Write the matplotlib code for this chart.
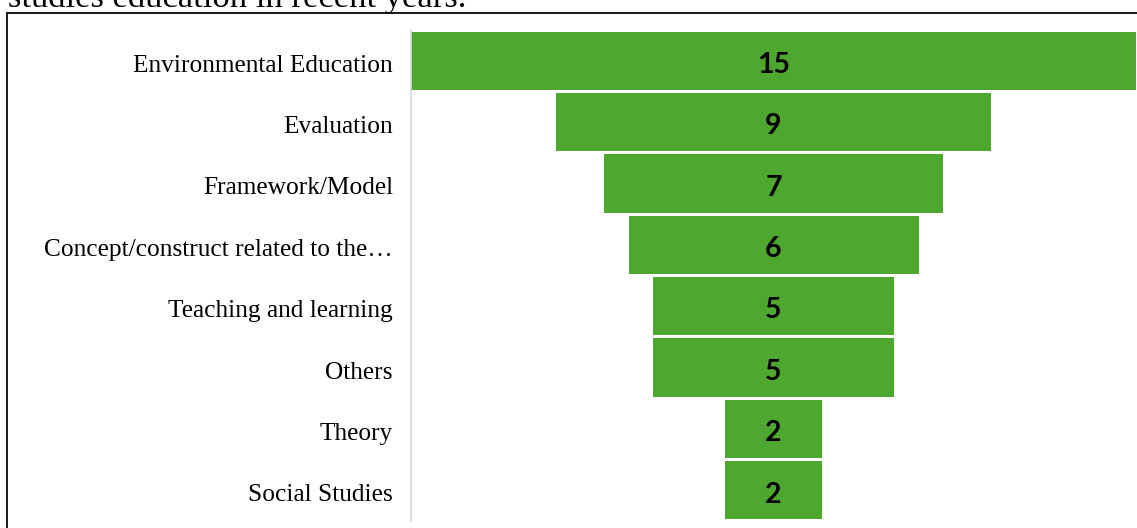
import matplotlib
matplotlib.use("Agg")
import matplotlib.pyplot as plt
import matplotlib.transforms as mtransforms
from matplotlib.lines import Line2D

categories = ["Environmental Education", "Evaluation", "Framework/Model",
              "Concept/construct related to the\u2026", "Teaching and learning",
              "Others", "Theory", "Social Studies"]
values = [15, 9, 7, 6, 5, 5, 2, 2]
title_text = "studies education in recent years."

W, H = 1137, 528
fig = plt.figure(figsize=(W / 100, H / 100), dpi=100)

ax = fig.add_axes([411 / W, (H - 521) / H, (1136 - 411) / W, 491 / H])
ypos = list(range(len(values)))
lefts = [-v / 2 for v in values]
ax.barh(ypos, values, left=lefts, height=0.95, color="#4EA72E")
for y, v in zip(ypos, values):
    ax.text(0, y + 0.2, str(v), ha="center", va="baseline", fontsize=20.5,
            fontweight="bold", family="Lato", color="black")

ax.set_xlim(-7.5, 7.5)
ax.set_ylim(len(values) - 0.5, -0.5)
ax.set_yticks(ypos)
ax.set_yticklabels(categories, family="Liberation Serif", fontsize=18.3)
ax.tick_params(axis="y", length=0, pad=13)
offset = mtransforms.ScaledTranslation(0, -2.5 / 100, fig.dpi_scale_trans)
for lbl in ax.get_yticklabels():
    lbl.set_transform(lbl.get_transform() + offset)
ax.set_xticks([])
for s in ["top", "right", "bottom"]:
    ax.spines[s].set_visible(False)
ax.spines["left"].set_color("#D9D9D9")
ax.spines["left"].set_linewidth(1.2)

# figure border (partially visible)
fig.add_artist(Line2D([6.7 / W, 1.0], [1 - 12.5 / H, 1 - 12.5 / H],
                      transform=fig.transFigure, color="#1a1a1a", lw=1.4))
fig.add_artist(Line2D([6.7 / W, 6.7 / W], [0, 1 - 12.5 / H],
                      transform=fig.transFigure, color="#1a1a1a", lw=1.4))

fig.text(8 / W, 1 - 6.5 / H, title_text, family="Liberation Serif",
         fontsize=24.8, ha="left", va="baseline")

fig.savefig("out.png", dpi=100)
